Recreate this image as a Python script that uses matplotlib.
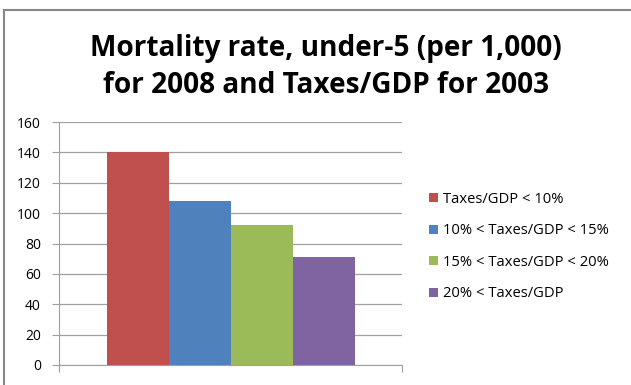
import matplotlib.pyplot as plt
from matplotlib.lines import Line2D

# data
groups = ['Taxes/GDP < 10%', '10% < Taxes/GDP < 15%',
          '15% < Taxes/GDP < 20%', '20% < Taxes/GDP']
mortality = [140, 108, 92, 71]
colors = ['#C0504D', '#4F81BD', '#9BBB59', '#8064A2']
yticks = [0, 20, 40, 60, 80, 100, 120, 140, 160]

plt.rcParams['font.family'] = ['Open Sans', 'DejaVu Sans']

fig = plt.figure(figsize=(6.31, 3.85), dpi=100)
ax = fig.add_axes([59 / 631, 20 / 385, 343 / 631, 243 / 385])

# one series per tax band, side by side in a single category
positions = [i - (len(mortality) - 1) / 2 for i in range(len(mortality))]
for pos, val, col, lab in zip(positions, mortality, colors, groups):
    ax.bar(pos, val, width=1.0, color=col, label=lab, zorder=3)

half = 343 / 62 / 2
ax.set_xlim(-half, half)
ax.set_ylim(0, 160)
ax.set_yticks(yticks)
ax.set_xticks([-half, half])
ax.set_xticklabels([])
ax.grid(axis='y', color='#a0a0a0', linewidth=0.9, zorder=0)
ax.tick_params(axis='y', length=5, color='#a0a0a0', labelsize=10, pad=8)
ax.tick_params(axis='x', length=5, color='#a0a0a0')
for side in ['top', 'right']:
    ax.spines[side].set_visible(False)
ax.spines['left'].set_color('#a0a0a0')
ax.spines['bottom'].set_color('#a0a0a0')

fig.text(326 / 631, 1 - 67 / 385,
         'Mortality rate, under-5 (per 1,000)\nfor 2008 and Taxes/GDP for 2003',
         ha='center', va='center', fontsize=20.2, fontweight='bold',
         linespacing=1.33)

ax.legend(loc='upper left', bbox_to_anchor=(429 / 631, 1 - 192 / 385),
          bbox_transform=fig.transFigure, frameon=False, fontsize=10.6,
          handlelength=0.6, handleheight=0.6, handletextpad=0.35,
          labelspacing=1.12, borderaxespad=0, borderpad=0)

# outer chart border (top and left edges visible in the crop)
fig.add_artist(Line2D([4 / 631, 4 / 631], [0, 1 - 10 / 385],
                      transform=fig.transFigure, color='#888888', linewidth=1.5))
fig.add_artist(Line2D([4 / 631, 1], [1 - 10 / 385, 1 - 10 / 385],
                      transform=fig.transFigure, color='#888888', linewidth=1.5))

fig.savefig('out.png', dpi=100)
